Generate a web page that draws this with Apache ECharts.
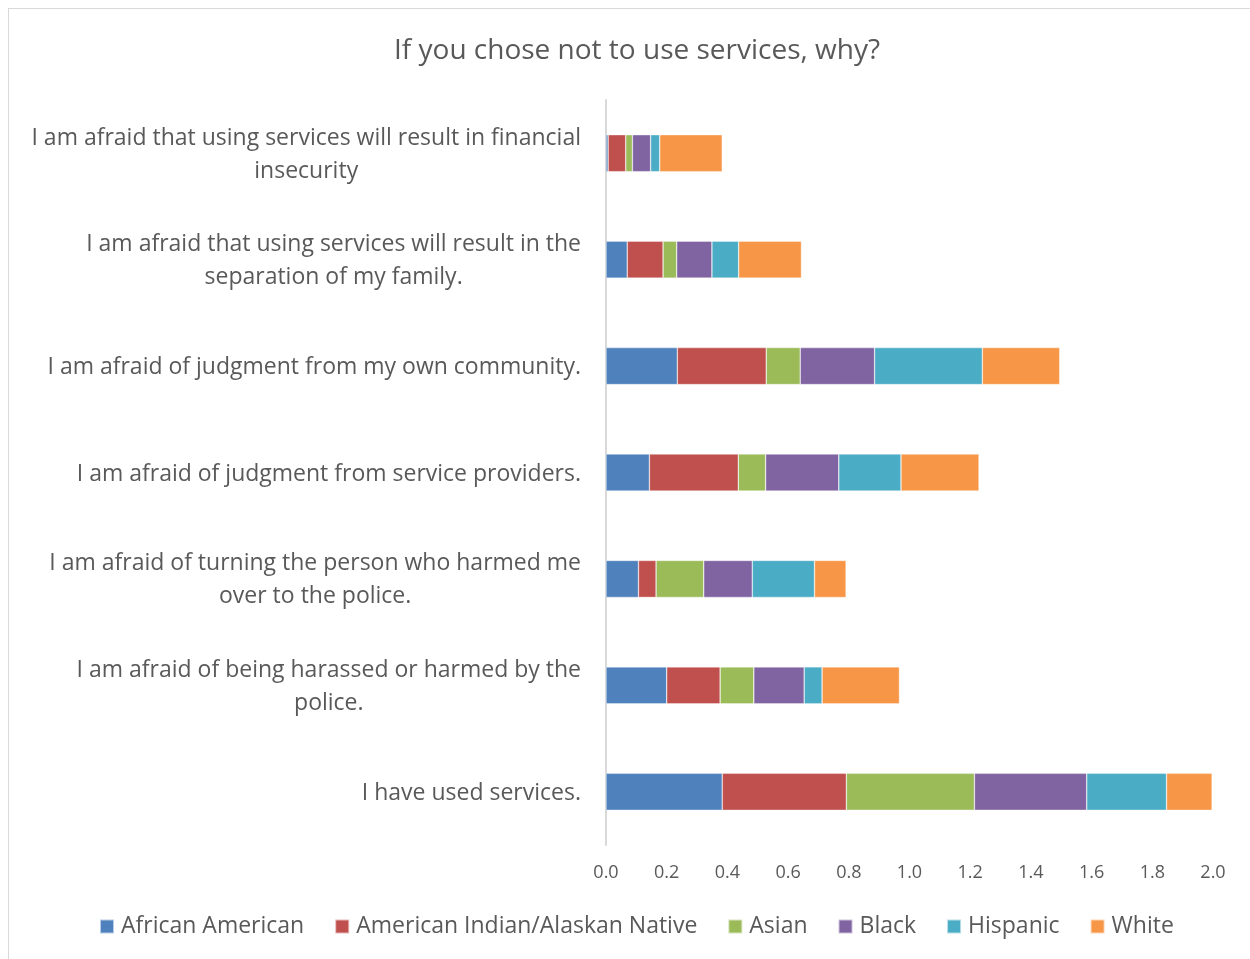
<!DOCTYPE html>
<html>
<head>
<meta charset="utf-8">
<script src="https://cdn.jsdelivr.net/npm/echarts@6/dist/echarts.min.js"></script>
<style>
  html, body { margin: 0; padding: 0; background: #fff; overflow: hidden; }
  #frame { position: absolute; left: 8px; top: 8px; width: 1260px; height: 970px; border: 1px solid #d9d9d9; box-sizing: border-box; }
  #chart { position: absolute; left: 0; top: 0; width: 1250px; height: 959px; }
</style>
</head>
<body>
<div id="frame"></div>
<div id="chart"></div>
<script>
// Survey answers, listed top to bottom
const categories = [
  'I am afraid that using services will result in financial\ninsecurity',
  'I am afraid that using services will result in the\nseparation of my family.',
  'I am afraid of judgment from my own community.',
  'I am afraid of judgment from service providers.',
  'I am afraid of turning the person who harmed me\nover to the police.',
  'I am afraid of being harassed or harmed by the\npolice.',
  'I have used services.'
];

const seriesNames = ['African American', 'American Indian/Alaskan Native', 'Asian', 'Black', 'Hispanic', 'White'];

const africanAmerican = [0.007, 0.070, 0.235, 0.143, 0.107, 0.200, 0.383];
const americanIndian  = [0.058, 0.118, 0.293, 0.293, 0.058, 0.176, 0.409];
const asian           = [0.022, 0.045, 0.112, 0.090, 0.157, 0.111, 0.422];
const black           = [0.060, 0.116, 0.245, 0.241, 0.160, 0.166, 0.370];
const hispanic        = [0.030, 0.088, 0.355, 0.205, 0.205, 0.059, 0.263];
const white           = [0.206, 0.207, 0.255, 0.257, 0.104, 0.255, 0.150];

const xTicks = { min: 0, max: 2, interval: 0.2 };

const palette = ['#4F81BD', '#C0504D', '#9BBB59', '#8064A2', '#4BACC6', '#F79646'];
const values = [africanAmerican, americanIndian, asian, black, hispanic, white];

const FONT = '"Open Sans", "Noto Sans", sans-serif';
const TEXT = '#595959';

const chart = echarts.init(document.getElementById('chart'), null, { renderer: 'canvas' });

chart.setOption({
  animation: false,
  color: palette,
  title: {
    text: 'If you chose not to use services, why?',
    left: 389,
    top: 32,
    textStyle: { fontFamily: FONT, fontSize: 28, fontWeight: 'normal', color: TEXT }
  },
  grid: { left: 606, right: 37, top: 100, height: 745, containLabel: false },
  xAxis: {
    type: 'value',
    min: xTicks.min,
    max: xTicks.max,
    interval: xTicks.interval,
    axisLine: { show: false },
    axisTick: { show: false },
    splitLine: { show: false },
    axisLabel: {
      margin: 19,
      fontFamily: FONT,
      fontSize: 18,
      color: TEXT,
      formatter: v => v.toFixed(1)
    }
  },
  yAxis: {
    type: 'category',
    inverse: true,
    data: categories,
    axisLine: { show: true, lineStyle: { color: '#d9d9d9', width: 2 } },
    axisTick: { show: false },
    axisLabel: {
      margin: 25,
      align: 'right',
      formatter: v => v.split('\n').map(line => '{a|' + line + '}').join('\n'),
      rich: {
        a: { align: 'center', fontFamily: FONT, fontSize: 23, lineHeight: 33, color: TEXT, padding: [3, 0, 0, 0] }
      }
    }
  },
  legend: {
    bottom: 16,
    left: 94,
    itemWidth: 14,
    itemHeight: 14,
    itemGap: 30,
    icon: 'rect',
    textStyle: { fontFamily: FONT, fontSize: 23, color: TEXT, padding: [0, 0, 0, 2] },
    data: seriesNames
  },
  series: seriesNames.map((name, i) => ({
    name: name,
    type: 'bar',
    stack: 'total',
    barWidth: 37,
    data: values[i],
    itemStyle: { borderColor: 'rgba(255,255,255,0.6)', borderWidth: 0.6 }
  }))
});
</script>
</body>
</html>
